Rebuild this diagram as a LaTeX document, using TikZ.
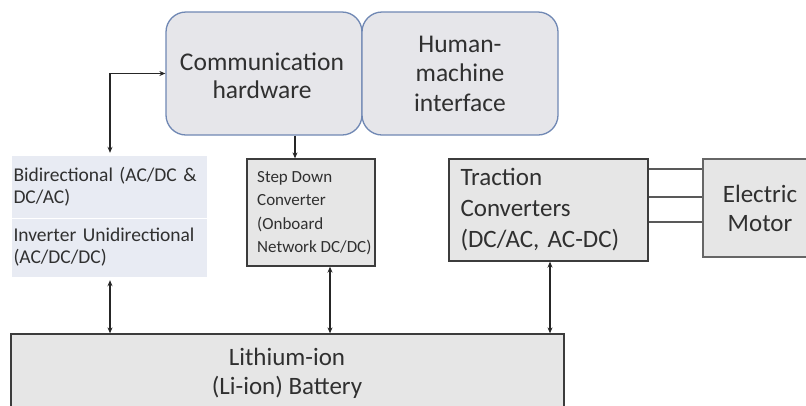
\documentclass[tikz,border=0pt]{standalone}
\usepackage{fontspec}
\setmainfont{Carlito}
\usetikzlibrary{arrows.meta,calc}
\definecolor{txt}{HTML}{303030}
\definecolor{boxfill}{HTML}{E6E6E6}
\definecolor{roundfill}{HTML}{E6E6EA}
\definecolor{roundline}{HTML}{7088B4}
\definecolor{bluefill}{HTML}{E8EBF3}
\definecolor{edge}{HTML}{3C3C3C}
\tikzset{
  roundbox/.style={draw=roundline, fill=roundfill, line width=1.3pt, rounded corners=20pt, align=center, text=txt, font=\fontsize{25.5}{29.5}\selectfont, inner sep=0pt},
  plainbox/.style={draw=edge, fill=boxfill, line width=1.3pt, text=txt, inner sep=0pt},
  bluecell/.style={fill=bluefill, text=txt, align=left, inner sep=0pt, font=\fontsize{19.5}{22}\selectfont, text width=192pt, minimum width=195pt},
  conn/.style={draw=black!85, line width=1.2pt},
  dbl/.style={conn, {Stealth[length=6pt,width=5pt]}-{Stealth[length=6pt,width=5pt]}},
  sgl/.style={conn, -{Stealth[length=6pt,width=5pt]}}
}
\begin{document}
\begin{tikzpicture}[x=1pt,y=-1pt]
\useasboundingbox (0,0) rectangle (806,405);
\clip (0,0) rectangle (806,405);
\fill[white] (0,0) rectangle (806,405);
% top rounded boxes
\node[roundbox, minimum width=196pt, minimum height=123pt] (comm) at (264,73.5) {};
\node[text=txt, align=center, font=\fontsize{25.5}{28.5}\selectfont, inner sep=0pt] (commtxt) at (262,76) {Communication\\hardware};
\node[roundbox, minimum width=196pt, minimum height=123pt] (hmi) at (460,73.5) {Human-\\machine\\interface};
% bidirectional cells
\node[bluecell, minimum height=62pt] (bidA) at (109.5,187) {Bidirectional (AC/DC \&\\DC/AC)};
\node[bluecell, minimum height=59pt] (bidB) at (109.5,247.5) {Inverter Unidirectional\\(AC/DC/DC)};
\draw[white, line width=1pt] (bidA.south west) -- (bidA.south east);
% step down
\node[plainbox, minimum width=128pt, minimum height=107pt] (step) at (311,212.5) {};
\node[text=txt, anchor=west, align=left, inner sep=0pt, font=\fontsize{17}{23.5}\selectfont] (steptxt) at (257,213) {Step Down\\Converter\\(Onboard\\Network DC/DC)};
% traction
\node[plainbox, minimum width=199pt, minimum height=102pt, align=left, text width=176pt, font=\fontsize{25}{31}\selectfont] (trac) at (548.5,210) {Traction\\Converters\\(DC/AC, AC-DC)};
% motor
\node[plainbox, draw=black!60, minimum width=110pt, minimum height=98pt] (motor) at (758,208) {};
\node[text=txt, align=center, font=\fontsize{25}{29}\selectfont] (motortxt) at (760,208) {Electric\\Motor};
% battery
\node[plainbox, minimum width=553pt, minimum height=90pt] (bat) at (287.5,379) {};
\node[text=txt, align=center, font=\fontsize{25}{29}\selectfont] (battxt) at (287,373) {Lithium-ion\\(Li-ion) Battery};
% reference x positions
\coordinate (xa) at (110,0);
\coordinate (xb) at (295,0);
\coordinate (xc) at (330,0);
\coordinate (xd) at (550,0);
\coordinate (y1) at (0,169);
\coordinate (y2) at (0,197);
\coordinate (y3) at (0,222);
% connectors
\draw[dbl, shorten <=3pt] (bidA.north -| xa) |- (comm.west);
\draw[sgl] (comm.south -| xb) -- (step.north -| xb);
\draw[dbl, shorten <=3pt] (bidB.south -| xa) -- (bat.north -| xa);
\draw[dbl] (step.south -| xc) -- (bat.north -| xc);
\draw[dbl] (trac.south -| xd) -- (bat.north -| xd);
\draw[draw=black!65, line width=1.3pt] (trac.east |- y1) -- (motor.west |- y1);
\draw[draw=black!65, line width=1.3pt] (trac.east |- y2) -- (motor.west |- y2);
\draw[draw=black!65, line width=1.3pt] (trac.east |- y3) -- (motor.west |- y3);
\end{tikzpicture}
\end{document}
